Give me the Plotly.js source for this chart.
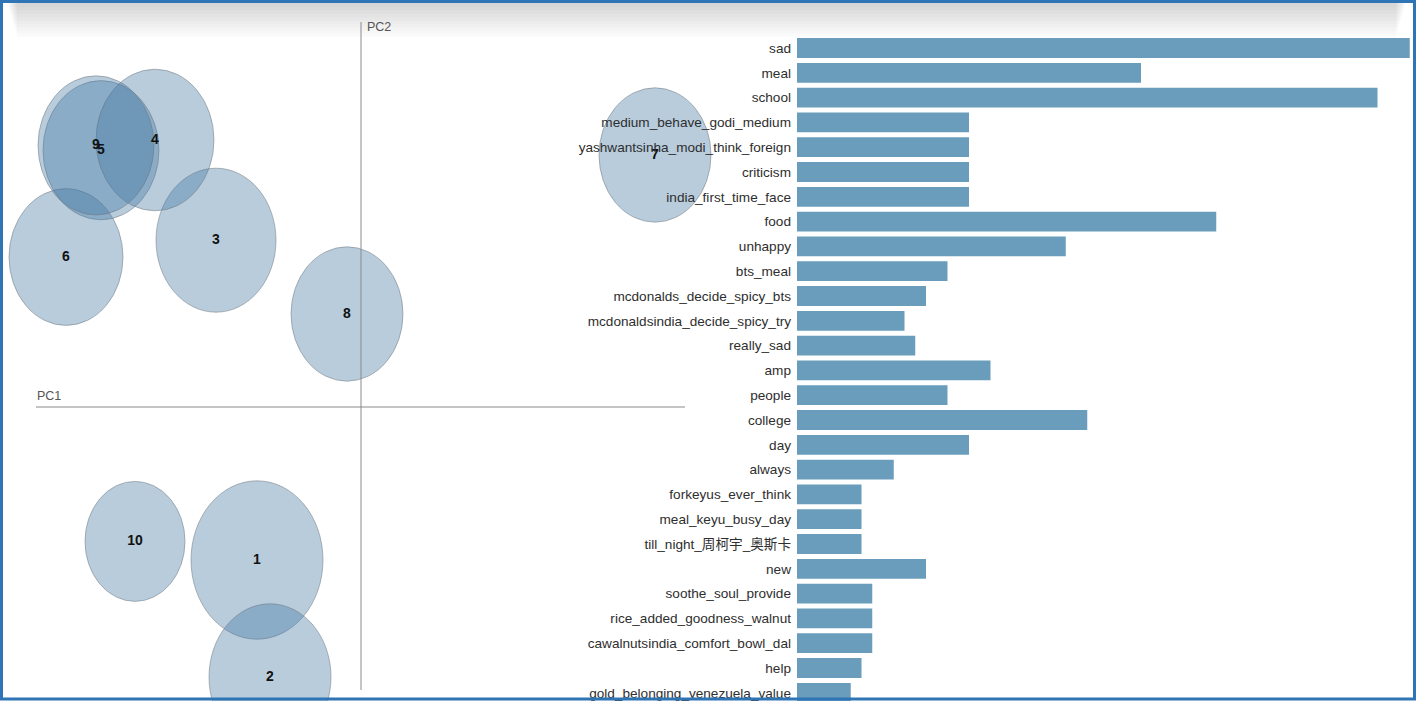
<!DOCTYPE html>
<html>
<head>
<meta charset="utf-8">
<script src="https://cdn.plot.ly/plotly-3.0.1.min.js"></script>
<style>
  html, body { margin: 0; padding: 0; background: #ffffff; }
  #chart { width: 1416px; height: 701px; }
</style>
</head>
<body>
<div id="chart"></div>
<script>
// ---- Topic map (intertopic distance) ----
const topics = ['1', '2', '3', '4', '5', '6', '7', '8', '9', '10'];
const pc1    = [-0.104, -0.091, -0.145, -0.206, -0.260, -0.295, 0.294, -0.014, -0.265, -0.226];
const pc2    = [-0.1275, -0.225, 0.139, 0.2225, 0.214, 0.125, 0.210, 0.0775, 0.218, -0.112];
const radius = [0.066, 0.061, 0.060, 0.059, 0.058, 0.057, 0.056, 0.056, 0.058, 0.050];

// ---- Term bar chart ----
const terms = [
  'sad', 'meal', 'school', 'medium_behave_godi_medium', 'yashwantsinha_modi_think_foreign',
  'criticism', 'india_first_time_face', 'food', 'unhappy', 'bts_meal',
  'mcdonalds_decide_spicy_bts', 'mcdonaldsindia_decide_spicy_try', 'really_sad', 'amp', 'people',
  'college', 'day', 'always', 'forkeyus_ever_think', 'meal_keyu_busy_day',
  'till_night_周柯宇_奥斯卡', 'new', 'soothe_soul_provide', 'rice_added_goodness_walnut',
  'cawalnutsindia_comfort_bowl_dal', 'help', 'gold_belonging_venezuela_value'
];
const termFreq = [
  57, 32, 54, 16, 16,
  16, 16, 39, 25, 14,
  12, 10, 11, 18, 14,
  27, 16, 9, 6, 6,
  6, 12, 7, 7,
  7, 6, 5
];

const W = 1416, H = 701;
const px = v => v / W;
const py = v => 1 - v / H;

// circle shapes built from the topic arrays, in data coordinates
const circleShapes = topics.map((t, i) => ({
  type: 'circle', xref: 'x', yref: 'y', layer: 'below',
  x0: pc1[i] - radius[i], x1: pc1[i] + radius[i],
  y0: pc2[i] - radius[i], y1: pc2[i] + radius[i],
  fillcolor: 'rgba(62,118,160,0.37)',
  line: { color: 'rgba(110,118,126,0.5)', width: 1 }
}));

// top grey band (simulated gradient)
const bandShapes = [];
for (let k = 0; k < 10; k++) {
  bandShapes.push({
    type: 'rect', xref: 'paper', yref: 'paper', layer: 'below',
    x0: px(8 + k), x1: px(1405 - k), y0: py(4 + 3.3 * (k + 1)), y1: py(3),
    fillcolor: 'rgba(0,0,0,0.016)', line: { width: 0 }
  });
}

const axisShapes = [
  // PC1 horizontal axis line
  { type: 'line', xref: 'x', yref: 'y', x0: -0.325, x1: 0.324, y0: 0, y1: 0,
    line: { color: '#8a8a8a', width: 1 }, layer: 'above' },
  // PC2 vertical axis line
  { type: 'line', xref: 'x', yref: 'y', x0: 0, x1: 0, y0: -0.2358, y1: 0.3208,
    line: { color: '#8a8a8a', width: 1 }, layer: 'above' }
];

const borderShape = {
  type: 'rect', xref: 'paper', yref: 'paper', layer: 'above',
  x0: px(1.5), x1: px(1414.5), y0: py(699), y1: py(1.5),
  fillcolor: 'rgba(0,0,0,0)', line: { color: '#2f74b5', width: 3 }
};

const data = [
  {
    type: 'scatter', mode: 'text', x: pc1, y: pc2, text: topics,
    textposition: 'middle center',
    textfont: { family: 'Liberation Sans, Arial, sans-serif', size: 14, color: '#111', weight: 'bold' },
    xaxis: 'x', yaxis: 'y', hoverinfo: 'skip', showlegend: false
  },
  {
    type: 'bar', orientation: 'h', y: terms, x: termFreq,
    marker: { color: '#6a9dbc', line: { width: 0 } },
    xaxis: 'x2', yaxis: 'y2', hoverinfo: 'skip', showlegend: false
  }
];

const layout = {
  width: W, height: H,
  margin: { l: 0, r: 0, t: 0, b: 0, pad: 0 },
  paper_bgcolor: '#ffffff', plot_bgcolor: 'rgba(0,0,0,0)',
  showlegend: false, hovermode: false,
  bargap: 0.2,
  font: { family: 'Liberation Sans, Arial, Noto Sans CJK SC, sans-serif', color: '#333' },
  xaxis: {
    domain: [0, px(790)], range: [-0.361, 0.429],
    visible: false, fixedrange: true
  },
  yaxis: {
    domain: [0, 1], range: [-(H - 407) / 1200, 407 / 1200],
    visible: false, fixedrange: true
  },
  xaxis2: {
    domain: [px(797), px(1413)], range: [0, 616 / 10.75],
    anchor: 'y2', visible: false, fixedrange: true
  },
  yaxis2: {
    domain: [0, py(35.6)], anchor: 'x2',
    type: 'category', categoryorder: 'array', categoryarray: terms,
    range: [(H - 48) / 24.8, -0.5],
    showgrid: false, zeroline: false, showline: false, ticks: '',
    ticklabelstandoff: 5,
    tickfont: { family: 'Liberation Sans, Arial, Noto Sans CJK SC, sans-serif', size: 13.6, color: '#2e2e2e' },
    fixedrange: true
  },
  shapes: [].concat(bandShapes, circleShapes, axisShapes, [borderShape]),
  annotations: [
    { xref: 'x', yref: 'y', x: -0.326, y: (407 - 396) / 1200, text: 'PC1', showarrow: false,
      xanchor: 'left', yanchor: 'middle', font: { size: 12.5, color: '#555' } },
    { xref: 'x', yref: 'y', x: 0.004, y: (407 - 27) / 1200, text: 'PC2', showarrow: false,
      xanchor: 'left', yanchor: 'middle', font: { size: 12.5, color: '#555' } }
  ]
};

Plotly.newPlot('chart', data, layout, { displayModeBar: false, staticPlot: true });
</script>
</body>
</html>
